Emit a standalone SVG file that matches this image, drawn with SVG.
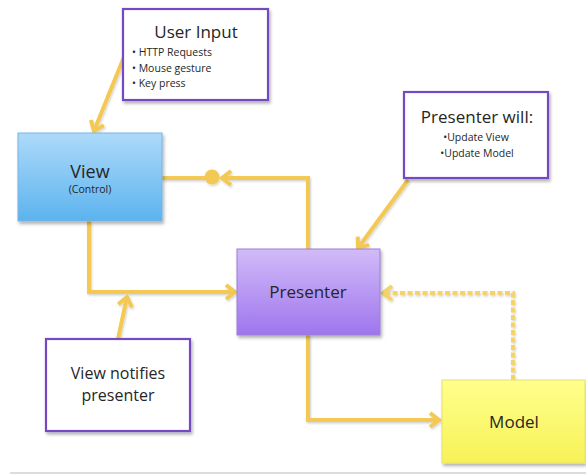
<svg xmlns="http://www.w3.org/2000/svg" width="586" height="474" viewBox="0 0 586 474">
  <defs>
    <linearGradient id="gView" x1="0" y1="0" x2="0" y2="1">
      <stop offset="0" stop-color="#addaf9"/>
      <stop offset="1" stop-color="#5cb3ef"/>
    </linearGradient>
    <linearGradient id="gPresenter" x1="0" y1="0" x2="0" y2="1">
      <stop offset="0" stop-color="#d2bbf8"/>
      <stop offset="1" stop-color="#9e76ee"/>
    </linearGradient>
    <linearGradient id="gModel" x1="0" y1="0" x2="0" y2="1">
      <stop offset="0" stop-color="#ffff8c"/>
      <stop offset="1" stop-color="#f7f257"/>
    </linearGradient>
    <filter id="shadow" x="-10%" y="-10%" width="125%" height="130%">
      <feDropShadow dx="1.5" dy="2.5" stdDeviation="1.5" flood-color="#000" flood-opacity="0.3"/>
    </filter>
    <filter id="lineShadow" x="-10%" y="-10%" width="130%" height="130%">
      <feDropShadow dx="1" dy="1.5" stdDeviation="1" flood-color="#000" flood-opacity="0.18"/>
    </filter>
    <marker id="arrow" markerUnits="userSpaceOnUse" markerWidth="20" markerHeight="20" viewBox="-14 -10 20 20" refX="0" refY="0" orient="auto">
      <path d="M-9,-7 L0,0 L-9,7" fill="none" stroke="#f3c852" stroke-width="4" stroke-linejoin="miter"/>
    </marker>
    <marker id="arrowLight" markerUnits="userSpaceOnUse" markerWidth="20" markerHeight="20" viewBox="-14 -10 20 20" refX="0" refY="0" orient="auto">
      <path d="M-9,-7 L0,0 L-9,7" fill="none" stroke="#f3d46a" stroke-width="4" stroke-linejoin="miter"/>
    </marker>
  </defs>
  <style>
    .txt { font-family: "Open Sans", "Noto Sans", "DejaVu Sans", sans-serif; fill: #262626; }
    .title { font-size: 17px; }
    .small { font-size: 10.5px; }
    .note { fill: #ffffff; stroke: #7448c4; stroke-width: 2.2; }
    .conn { fill: none; stroke: #f3c852; stroke-width: 4; stroke-linejoin: miter; }
    .dash { fill: none; stroke: #f3d46a; stroke-width: 4; stroke-dasharray: 5 2.5; }
  </style>

  <rect width="586" height="474" fill="#ffffff"/>
  <line x1="10" y1="473" x2="586" y2="473" stroke="#d0d0d0" stroke-width="1.5"/>

  <!-- connectors -->
  <g id="connectors" filter="url(#lineShadow)">
    <path class="conn" d="M124,57 L94,131" marker-end="url(#arrow)"/>
    <path class="conn" d="M408,180 L358,248" marker-end="url(#arrow)"/>
    <path class="conn" d="M118,339 L127,297" marker-end="url(#arrow)"/>
    <path class="conn" d="M89,221 L89,292 L235,292" marker-end="url(#arrow)"/>
    <path class="conn" d="M308,249 L308,178 L222,178" marker-end="url(#arrow)"/>
    <path class="conn" d="M205,178 L162,178"/>
    <circle cx="212" cy="177" r="7.5" fill="#f3c852"/>
    <path class="conn" d="M308,335 L308,420 L439,420" marker-end="url(#arrow)"/>
    <path class="dash" d="M513,380 L513,293 L383,293" marker-end="url(#arrowLight)"/>
  </g>

  <!-- nodes -->
  <g id="user-input">
    <rect class="note" x="123" y="9" width="145" height="91" filter="url(#shadow)"/>
    <text class="txt title" x="196" y="38" text-anchor="middle">User Input</text>
    <text class="txt small" x="132" y="56">• HTTP Requests</text>
    <text class="txt small" x="132" y="72">• Mouse gesture</text>
    <text class="txt small" x="132" y="87">• Key press</text>
  </g>

  <g id="view">
    <rect x="18" y="133" width="144" height="88" fill="url(#gView)" stroke="#78b3e0" stroke-width="1" filter="url(#shadow)"/>
    <text class="txt" x="90" y="178" text-anchor="middle" font-size="18" fill="#1f2d3d">View</text>
    <text class="txt" x="90" y="193" text-anchor="middle" font-size="10.5">(Control)</text>
  </g>

  <g id="presenter-will">
    <rect class="note" x="404" y="92" width="144" height="86" filter="url(#shadow)"/>
    <text class="txt title" x="477" y="123" text-anchor="middle">Presenter will:</text>
    <text class="txt small" x="476" y="141" text-anchor="middle">•Update View</text>
    <text class="txt small" x="477" y="157" text-anchor="middle">•Update Model</text>
  </g>

  <g id="presenter">
    <rect x="237" y="249" width="143" height="86" fill="url(#gPresenter)" stroke="#9c7fd6" stroke-width="1" filter="url(#shadow)"/>
    <text class="txt" x="308" y="298" text-anchor="middle" font-size="17" fill="#2a1d45">Presenter</text>
  </g>

  <g id="view-notifies">
    <rect class="note" x="46" y="339" width="144" height="92" filter="url(#shadow)"/>
    <text class="txt" x="118" y="379" text-anchor="middle" font-size="16">View notifies</text>
    <text class="txt" x="118" y="401" text-anchor="middle" font-size="16">presenter</text>
  </g>

  <g id="model">
    <rect x="442" y="380" width="143" height="83" fill="url(#gModel)" stroke="#e6e070" stroke-width="1" filter="url(#shadow)"/>
    <text class="txt" x="514" y="428" text-anchor="middle" font-size="17">Model</text>
  </g>
</svg>
